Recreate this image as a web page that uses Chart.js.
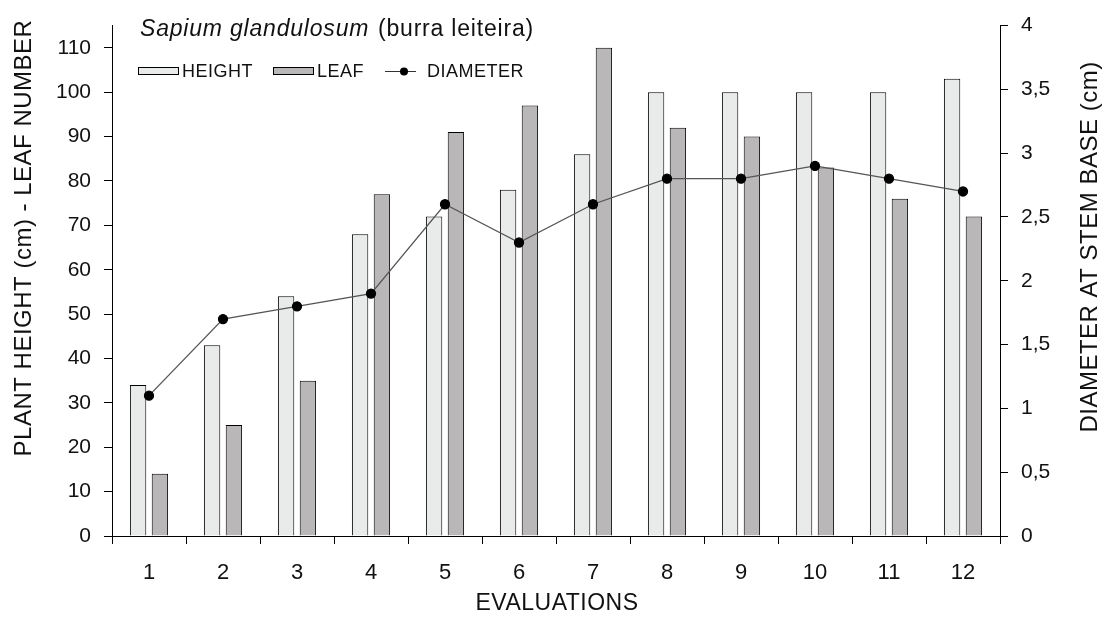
<!DOCTYPE html>
<html>
<head>
<meta charset="utf-8">
<script src="https://cdn.jsdelivr.net/npm/chart.js@4.4.0/dist/chart.umd.min.js"></script>
<style>
  body { margin: 0; background: #fff; }
  #wrap { width: 1107px; height: 619px; }
</style>
</head>
<body>
<div id="wrap"><canvas id="chart" width="1107" height="619"></canvas></div>
<script>
const categories = ['1', '2', '3', '4', '5', '6', '7', '8', '9', '10', '11', '12'];
const heightValues = [34, 43, 54, 68, 72, 78, 86, 100, 100, 100, 100, 103];
const leafValues = [14, 25, 35, 77, 91, 97, 110, 92, 90, 83, 76, 72];
const diameterValues = [1.1, 1.7, 1.8, 1.9, 2.6, 2.3, 2.6, 2.8, 2.8, 2.9, 2.8, 2.7];
const leftTicks = [0, 10, 20, 30, 40, 50, 60, 70, 80, 90, 100, 110];
const rightTicks = [0, 0.5, 1, 1.5, 2, 2.5, 3, 3.5, 4];

const FONT = '"Liberation Sans", Arial, sans-serif';
const HEIGHT_COLOR = '#e9eaea';
const LEAF_COLOR = '#b9b7b7';

// title, legend and axis titles are placed by hand like in the original figure
const overlayText = {
  id: 'overlayText',
  afterDraw(chart) {
    const ctx = chart.ctx;
    ctx.save();
    ctx.fillStyle = '#111';
    ctx.textBaseline = 'alphabetic';
    ctx.textAlign = 'left';

    ctx.letterSpacing = '0.8px';
    ctx.font = 'italic 23px ' + FONT;
    ctx.fillText('Sapium glandulosum', 140, 36);
    ctx.font = '23px ' + FONT;
    ctx.fillText('(burra leiteira)', 378, 36);

    // legend
    ctx.letterSpacing = '0.5px';
    ctx.font = '18px ' + FONT;
    ctx.lineWidth = 1;
    ctx.strokeStyle = '#000';
    ctx.fillStyle = HEIGHT_COLOR;
    ctx.fillRect(138.5, 67.5, 40, 7);
    ctx.strokeRect(138.5, 67.5, 40, 7);
    ctx.fillStyle = LEAF_COLOR;
    ctx.fillRect(273.5, 67.5, 40, 7);
    ctx.strokeRect(273.5, 67.5, 40, 7);
    ctx.fillStyle = '#111';
    ctx.fillText('HEIGHT', 182, 77);
    ctx.fillText('LEAF', 317, 77);
    ctx.strokeStyle = '#333';
    ctx.beginPath();
    ctx.moveTo(385, 71.5);
    ctx.lineTo(416, 71.5);
    ctx.stroke();
    ctx.fillStyle = '#000';
    ctx.beginPath();
    ctx.arc(404, 71.5, 4, 0, Math.PI * 2);
    ctx.fill();
    ctx.fillStyle = '#111';
    ctx.fillText('DIAMETER', 427, 77);

    // axis titles
    ctx.textAlign = 'center';
    ctx.textBaseline = 'middle';
    ctx.letterSpacing = '0.5px';
    ctx.font = '23px ' + FONT;
    ctx.fillText('EVALUATIONS', 557, 604);

    ctx.font = '24px ' + FONT;
    ctx.save();
    ctx.translate(24, 238);
    ctx.rotate(-Math.PI / 2);
    ctx.fillText('PLANT HEIGHT (cm) - LEAF NUMBER', 0, 0);
    ctx.restore();

    ctx.save();
    ctx.translate(1090, 247);
    ctx.rotate(-Math.PI / 2);
    ctx.fillText('DIAMETER AT STEM BASE (cm)', 0, 0);
    ctx.restore();

    ctx.restore();
  }
};

new Chart(document.getElementById('chart'), {
  data: {
    labels: categories,
    datasets: [
      {
        type: 'line',
        label: 'DIAMETER',
        data: diameterValues,
        yAxisID: 'y1',
        order: 0,
        borderColor: '#555',
        borderWidth: 1.3,
        pointRadius: 4.5,
        pointBackgroundColor: '#000',
        pointBorderColor: '#000',
        tension: 0
      },
      {
        type: 'bar',
        label: 'HEIGHT',
        data: heightValues,
        yAxisID: 'y',
        order: 1,
        backgroundColor: HEIGHT_COLOR,
        borderColor: '#000',
        borderWidth: 1,
        categoryPercentage: 0.59,
        barPercentage: 0.75
      },
      {
        type: 'bar',
        label: 'LEAF',
        data: leafValues,
        yAxisID: 'y',
        order: 1,
        backgroundColor: LEAF_COLOR,
        borderColor: '#000',
        borderWidth: 1,
        categoryPercentage: 0.59,
        barPercentage: 0.75
      }
    ]
  },
  options: {
    responsive: false,
    animation: false,
    layout: { padding: { top: 18, left: 0, right: 0, bottom: 0 } },
    plugins: {
      legend: { display: false },
      title: { display: false },
      tooltip: { enabled: false }
    },
    scales: {
      x: {
        offset: true,
        grid: { display: true, drawOnChartArea: false, offset: true, tickLength: 8, color: '#000' },
        border: { color: '#000', width: 1 },
        ticks: { color: '#111', font: { size: 22, family: FONT }, padding: 16, maxRotation: 0, autoSkip: false },
        afterFit(s) { s.height = 83; }
      },
      y: {
        position: 'left',
        min: 0,
        max: 115,
        grid: { drawOnChartArea: false, tickLength: 8, color: '#000' },
        border: { color: '#000', width: 1 },
        ticks: { color: '#111', font: { size: 21, family: FONT }, padding: 13, autoSkip: false },
        afterBuildTicks(s) { s.ticks = leftTicks.map(v => ({ value: v })); },
        afterFit(s) { s.width = 112; }
      },
      y1: {
        position: 'right',
        min: 0,
        max: 4,
        grid: { drawOnChartArea: false, tickLength: 8, color: '#000' },
        border: { color: '#000', width: 1 },
        ticks: {
          color: '#111',
          font: { size: 21, family: FONT },
          padding: 13,
          autoSkip: false,
          callback: v => String(v).replace('.', ',')
        },
        afterBuildTicks(s) { s.ticks = rightTicks.map(v => ({ value: v })); },
        afterFit(s) { s.width = 107; }
      }
    }
  },
  plugins: [overlayText]
});
</script>
</body>
</html>
